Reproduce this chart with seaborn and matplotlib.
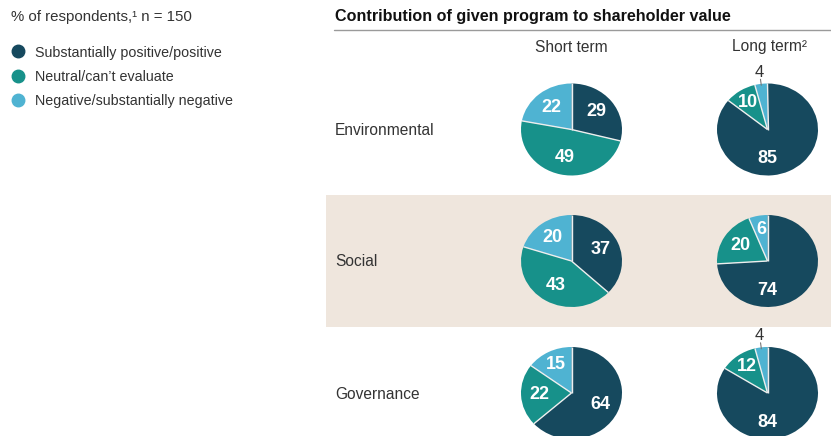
import numpy as np
import matplotlib
matplotlib.use("Agg")
import matplotlib.pyplot as plt
from matplotlib.lines import Line2D
from matplotlib.patches import Rectangle
from matplotlib import font_manager
import seaborn as sns

# --- data -------------------------------------------------------------
categories = ["Environmental", "Social", "Governance"]
horizons = ["Short term", "Long term\u00b2"]
responses = ["Substantially positive/positive",
             "Neutral/can\u2019t evaluate",
             "Negative/substantially negative"]

positive_short = [29, 37, 64]
neutral_short = [49, 43, 22]
negative_short = [22, 20, 15]

positive_long = [85, 74, 84]
neutral_long = [10, 20, 12]
negative_long = [4, 6, 4]

# --- style ------------------------------------------------------------
sns.set_theme(style="white")
available = {f.name for f in font_manager.fontManager.ttflist}
base_font = "Liberation Sans Narrow" if "Liberation Sans Narrow" in available else "Liberation Sans"
plt.rcParams["font.family"] = [base_font, "DejaVu Sans"]

palette = sns.color_palette(["#16495e", "#17918a", "#4fb3d2"])
band_color = "#efe6dd"
text_color = "#333333"

W, H = 831, 436
fig = plt.figure(figsize=(W / 100, H / 100), dpi=100)
fig.patch.set_facecolor("white")


def fx(x):
    return x / W


def fy(y):
    return 1 - y / H


# shaded band behind the middle row
fig.patches.append(Rectangle((fx(326), fy(327)), fx(831) - fx(326), fy(195) - fy(327),
                             transform=fig.transFigure, facecolor=band_color,
                             edgecolor="none", zorder=-5))

# headline and rule
fig.text(fx(335), fy(17), "Contribution of given program to shareholder value",
         fontsize=11.6, fontweight="bold", color="#111111", va="center", ha="left")
fig.add_artist(Line2D([fx(334), fx(831)], [fy(30.5), fy(30.5)],
                      transform=fig.transFigure, color="#9a9a9a", lw=1))

# column headers
col_cx = [571.5, 767.5]
for cx, name in zip(col_cx, horizons):
    fig.text(fx(cx + (2 if "\u00b2" in name else 0)), fy(47), name, fontsize=11.2,
             color=text_color, ha="center", va="center")

# row labels
row_cy = [129.5, 261, 393]
for cy, name in zip(row_cy, categories):
    fig.text(fx(335), fy(cy + 1), name, fontsize=11.2, color=text_color,
             ha="left", va="center")

# legend
fig.text(fx(11), fy(17), "% of respondents,\u00b9 n = 150", fontsize=10.8,
         color=text_color, ha="left", va="center")
handles = [Line2D([], [], marker="o", linestyle="none", markersize=9,
                  markerfacecolor=c, markeredgecolor=c) for c in palette]
fig.legend(handles, responses, loc="upper left",
           bbox_to_anchor=(fx(11.5), fy(45.5)), frameon=False, fontsize=10.3,
           handlelength=0.85, handletextpad=0.8, labelspacing=0.73,
           borderaxespad=0, borderpad=0, labelcolor=text_color)

# pies
rx, ry = 50.5, 46
series = [
    (positive_short, neutral_short, negative_short),
    (positive_long, neutral_long, negative_long),
]

for j, (pos, neu, neg) in enumerate(series):
    for i in range(len(categories)):
        values = [pos[i], neu[i], neg[i]]
        cx, cy = col_cx[j], row_cy[i]
        ax = fig.add_axes([fx(cx - rx), fy(cy + ry), 2 * rx / W, 2 * ry / H])
        ax.set_zorder(2)
        wedges, _ = ax.pie(values, colors=palette, startangle=90, counterclock=False,
                           radius=1, wedgeprops=dict(linewidth=0))
        ax.set_aspect("auto")
        ax.set_xlim(-1, 1)
        ax.set_ylim(-1, 1)
        ax.set_axis_off()
        for w in wedges:
            w.set_clip_on(False)

        for w, v in zip(wedges, values):
            # light separator along the start edge of each slice
            t = np.deg2rad(w.theta1)
            ax.plot([0, np.cos(t)], [0, np.sin(t)], color="#eeeeee", lw=1,
                    clip_on=False, solid_capstyle="butt")
            mid = np.deg2rad((w.theta1 + w.theta2) / 2)
            if v < 5:
                ax.plot([0.97 * np.cos(mid), 1.1 * np.cos(mid)],
                        [0.97 * np.sin(mid), 1.1 * np.sin(mid)],
                        color="#777777", lw=0.8, clip_on=False)
                ax.text(1.26 * np.cos(mid), 1.26 * np.sin(mid), f"{v}",
                        fontsize=12, color=text_color, ha="center", va="center",
                        clip_on=False)
            elif v >= 70:
                ax.text(0, -0.64, f"{v}", fontsize=13, fontweight="bold",
                        color="white", ha="center", va="center")
            else:
                r = 0.7 if v < 16 else 0.63
                ax.text(r * np.cos(mid), r * np.sin(mid), f"{v}", fontsize=13,
                        fontweight="bold", color="white", ha="center", va="center")

fig.savefig("out.png", dpi=100, facecolor="white")
